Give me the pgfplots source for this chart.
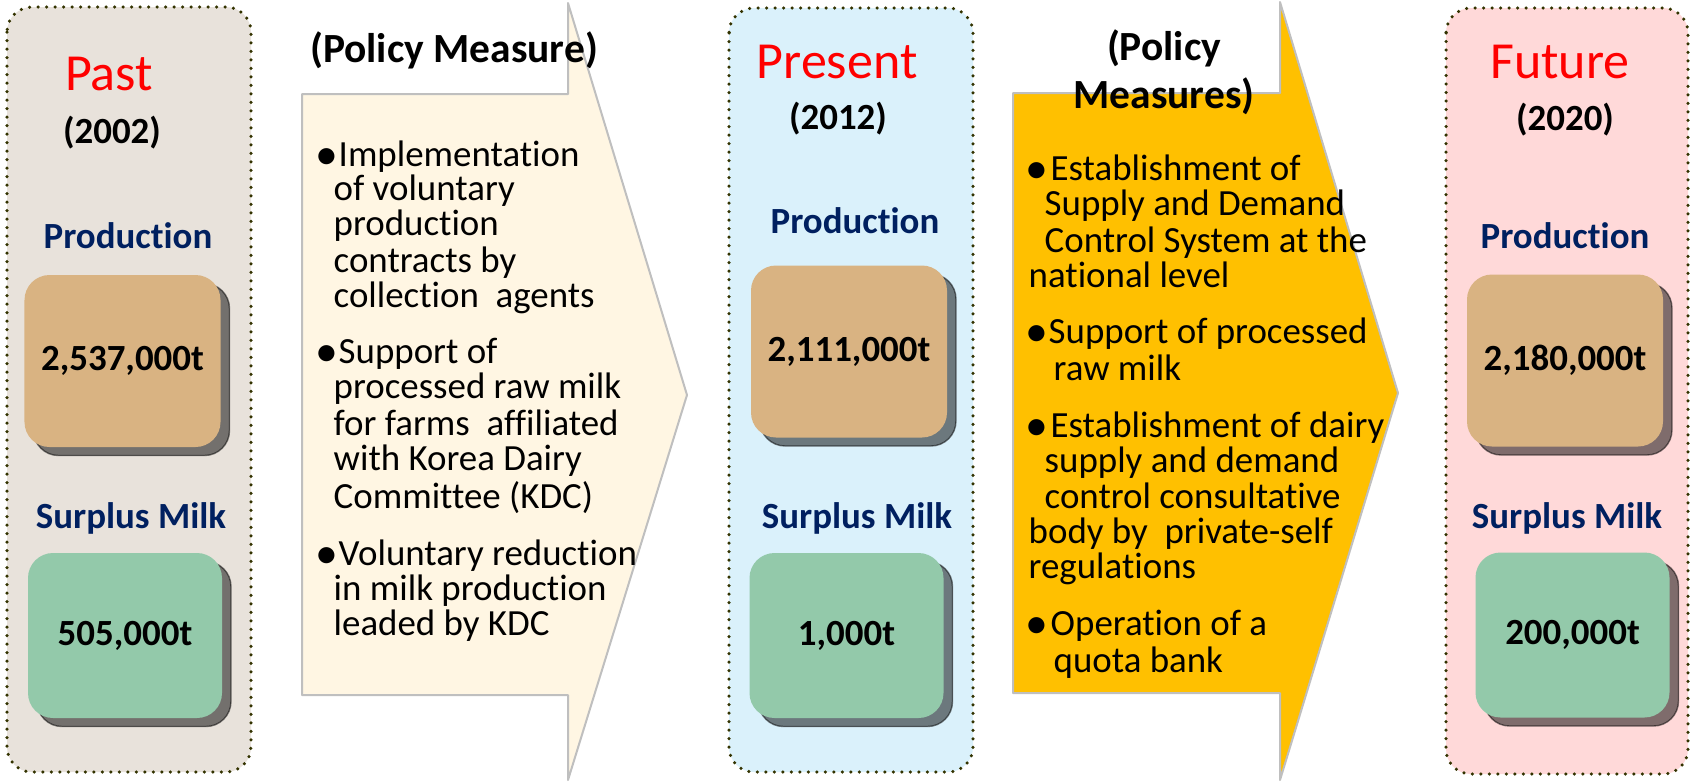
\documentclass[border=0pt]{standalone}
\usepackage{fontspec}
\setmainfont{Carlito}[Ligatures=NoCommon]
\usepackage{pgfplots}
\pgfplotsset{compat=1.18}
\usepackage{pgfplotstable}
\usetikzlibrary{shadows}

\definecolor{pastbg}{HTML}{E8E2DB}
\definecolor{presbg}{HTML}{DAF1FB}
\definecolor{futbg}{HTML}{FFD9D9}
\definecolor{prodbox}{HTML}{D9B382}
\definecolor{surpbox}{HTML}{93C9AA}
\definecolor{dotc}{HTML}{333300}
\definecolor{navy}{HTML}{002060}
\definecolor{cream}{HTML}{FFF6E3}
\definecolor{gold}{HTML}{FFC000}
\definecolor{edge}{HTML}{BFBFBF}

% font sizes (1px = 0.01cm)
\newcommand{\ttlfont}{\fontsize{14.8}{17}\selectfont}
\newcommand{\yrfont}{\fontsize{10.5}{12}\selectfont\bfseries}
\newcommand{\lblfont}{\fontsize{10.5}{12}\selectfont\bfseries}
\newcommand{\valfont}{\fontsize{10.5}{12}\selectfont\bfseries}
\newcommand{\pttlfont}{\fontsize{11.8}{13}\selectfont\bfseries}
\newcommand{\btxt}{\fontsize{10.5}{12}\selectfont}
\newcommand{\bul}{\raisebox{-0.9pt}{\fontsize{13}{13}\selectfont •}}

% box centres, pixel coordinates
\pgfplotstableread{
x      y      label
122.5  361    2,537,000t
849    351.5  2,111,000t
1565   360.5  2,180,000t
}\prodtab
\pgfplotstableread{
x      y      label
125    635.5  505,000t
846.5  635.5  1,000t
1572.5 635    200,000t
}\surptab

\tikzset{
    panel/.style={draw=dotc, line width=0.035cm, line cap=round,
                  dash pattern=on 0pt off 0.085cm, rounded corners=0.25cm},
    arrowshape/.style={draw=edge, line width=0.02cm, line join=round},
    txt/.style={inner sep=0pt, anchor=base west, font=\btxt},
    valbox/.style={anchor=center, rounded corners=0.25cm, font=\valfont, text=black,
                   drop shadow={shadow xshift=0.09cm, shadow yshift=-0.085cm,
                                fill=black, opacity=0.5}},
}
\newcommand{\bl}[3]{\node[txt] at (axis cs:#1,#2) {#3};}

\begin{document}
\begin{tikzpicture}
\begin{axis}[
    width=16.94cm, height=7.81cm, scale only axis,
    xmin=0, xmax=1694, ymin=0, ymax=781,
    y dir=reverse,
    axis lines=none,
    clip=false,
]
    \path (axis cs:0,0) rectangle (axis cs:1694,781);

    % panels
    \draw[panel, fill=pastbg] (axis cs:7,7) rectangle (axis cs:251,772);
    \draw[panel, fill=presbg] (axis cs:729,8) rectangle (axis cs:973,772);
    \draw[panel, fill=futbg] (axis cs:1446,8) rectangle (axis cs:1688,774);

    % arrows
    \draw[arrowshape, fill=cream] (axis cs:302,94) -- (axis cs:568,94) -- (axis cs:568,3)
        -- (axis cs:687,395) -- (axis cs:568,780) -- (axis cs:568,695) -- (axis cs:302,695) -- cycle;
    \draw[arrowshape, fill=gold] (axis cs:1013,93) -- (axis cs:1280,93) -- (axis cs:1280,2)
        -- (axis cs:1398,393) -- (axis cs:1280,780) -- (axis cs:1280,693) -- (axis cs:1013,693) -- cycle;

    % production boxes
    \addplot[only marks, mark size=0pt, mark options={draw=none, fill=none},
        point meta=explicit symbolic, nodes near coords,
        every node near coord/.append style={valbox, fill=prodbox,
            minimum width=1.96cm, minimum height=1.72cm}]
        table[x=x, y=y, meta=label] {\prodtab};
    % surplus boxes
    \addplot[only marks, mark size=0pt, mark options={draw=none, fill=none},
        point meta=explicit symbolic, nodes near coords,
        every node near coord/.append style={valbox, fill=surpbox,
            minimum width=1.94cm, minimum height=1.65cm}]
        table[x=x, y=y, meta=label] {\surptab};

    % panel titles
    \node[anchor=base, inner sep=0pt, text=red, font=\ttlfont] at (axis cs:109,90) {Past};
    \node[anchor=base, inner sep=0pt, font=\yrfont] at (axis cs:112,143) {(2002)};
    \node[anchor=base, inner sep=0pt, text=navy, font=\lblfont] at (axis cs:128,248) {Production};
    \node[anchor=base, inner sep=0pt, text=navy, font=\lblfont] at (axis cs:131,528) {Surplus Milk};

    \node[anchor=base, inner sep=0pt, text=red, font=\ttlfont] at (axis cs:837,78) {Present};
    \node[anchor=base, inner sep=0pt, font=\yrfont] at (axis cs:838,129) {(2012)};
    \node[anchor=base, inner sep=0pt, text=navy, font=\lblfont] at (axis cs:855,233) {Production};
    \node[anchor=base, inner sep=0pt, text=navy, font=\lblfont] at (axis cs:857,528) {Surplus Milk};

    \node[anchor=base, inner sep=0pt, text=red, font=\ttlfont] at (axis cs:1560,78) {Future};
    \node[anchor=base, inner sep=0pt, font=\yrfont] at (axis cs:1565,130) {(2020)};
    \node[anchor=base, inner sep=0pt, text=navy, font=\lblfont] at (axis cs:1565,248) {Production};
    \node[anchor=base, inner sep=0pt, text=navy, font=\lblfont] at (axis cs:1567,528) {Surplus Milk};

    % first arrow text
    \node[anchor=base, inner sep=0pt, font=\pttlfont] at (axis cs:454,62) {(Policy Measure)};
    \bl{315}{166}{\bul}
    \bl{338}{166}{Implementation}
    \bl{333}{200}{of voluntary}
    \bl{333}{235}{production}
    \bl{333}{272}{contracts by}
    \bl{333}{307}{collection\ \ agents}
    \bl{315}{363}{\bul}
    \bl{338}{363}{Support of}
    \bl{333}{398}{processed raw milk}
    \bl{333}{435}{for farms\ \ affiliated}
    \bl{333}{470}{with Korea Dairy}
    \bl{333}{508}{Committee (KDC)}
    \bl{315}{565}{\bul}
    \bl{338}{565}{Voluntary reduction}
    \bl{333}{600}{in milk production}
    \bl{333}{635}{leaded by KDC}

    % second arrow text
    \node[anchor=base, inner sep=0pt, font=\pttlfont] at (axis cs:1164,60) {(Policy};
    \node[anchor=base, inner sep=0pt, font=\pttlfont] at (axis cs:1164,108) {Measures)};
    \bl{1025}{180}{\bul}
    \bl{1050}{180}{Establishment of}
    \bl{1044}{215}{Supply and Demand}
    \bl{1044}{252}{Control System at the}
    \bl{1028}{287}{national level}
    \bl{1025}{343}{\bul}
    \bl{1048}{343}{Support of processed}
    \bl{1053}{380}{raw milk}
    \bl{1025}{437}{\bul}
    \bl{1050}{437}{Establishment of dairy}
    \bl{1044}{472}{supply and demand}
    \bl{1044}{508}{control consultative}
    \bl{1028}{543}{body by\ \ private-self}
    \bl{1028}{578}{regulations}
    \bl{1025}{635}{\bul}
    \bl{1050}{635}{Operation of a}
    \bl{1053}{672}{quota bank}
\end{axis}
\end{tikzpicture}
\end{document}
